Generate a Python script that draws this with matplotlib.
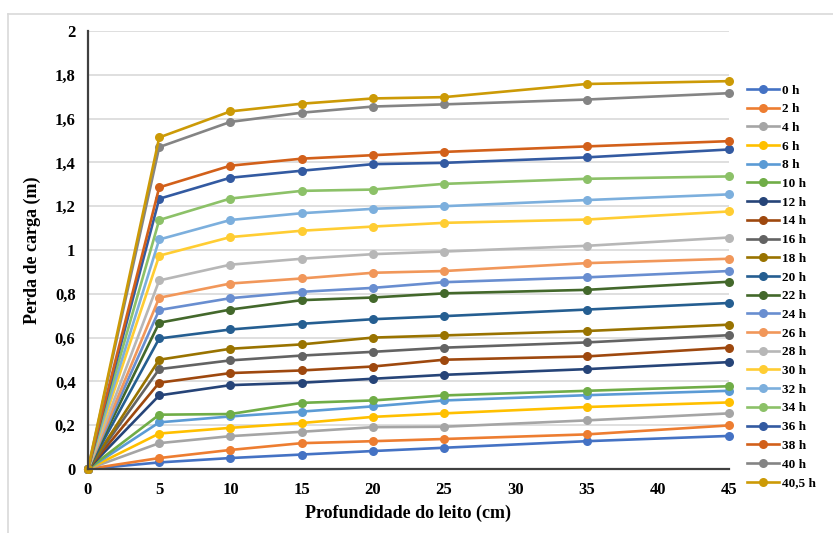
import matplotlib
matplotlib.use("Agg")
import matplotlib.pyplot as plt
from matplotlib.lines import Line2D

depth = [0, 5, 10, 15, 20, 25, 35, 45]
labels = ["0 h", "2 h", "4 h", "6 h", "8 h", "10 h", "12 h", "14 h", "16 h", "18 h",
          "20 h", "22 h", "24 h", "26 h", "28 h", "30 h", "32 h", "34 h", "36 h",
          "38 h", "40 h", "40,5 h"]

s0 = [0, 0.03, 0.05, 0.066, 0.082, 0.097, 0.127, 0.151]
s2 = [0, 0.05, 0.087, 0.118, 0.127, 0.137, 0.158, 0.199]
s4 = [0, 0.118, 0.150, 0.170, 0.191, 0.193, 0.222, 0.254]
s6 = [0, 0.162, 0.188, 0.210, 0.238, 0.254, 0.283, 0.304]
s8 = [0, 0.213, 0.240, 0.262, 0.286, 0.313, 0.337, 0.357]
s10 = [0, 0.248, 0.251, 0.302, 0.313, 0.336, 0.357, 0.378]
s12 = [0, 0.336, 0.383, 0.394, 0.412, 0.430, 0.456, 0.488]
s14 = [0, 0.394, 0.438, 0.450, 0.468, 0.499, 0.514, 0.554]
s16 = [0, 0.456, 0.496, 0.518, 0.535, 0.554, 0.578, 0.611]
s18 = [0, 0.499, 0.549, 0.569, 0.600, 0.610, 0.630, 0.659]
s20 = [0, 0.596, 0.637, 0.663, 0.684, 0.698, 0.728, 0.758]
s22 = [0, 0.668, 0.728, 0.771, 0.783, 0.802, 0.818, 0.855]
s24 = [0, 0.726, 0.780, 0.809, 0.827, 0.853, 0.875, 0.904]
s26 = [0, 0.782, 0.847, 0.870, 0.896, 0.904, 0.940, 0.960]
s28 = [0, 0.861, 0.933, 0.960, 0.981, 0.993, 1.019, 1.057]
s30 = [0, 0.974, 1.059, 1.088, 1.107, 1.124, 1.139, 1.176]
s32 = [0, 1.048, 1.137, 1.168, 1.188, 1.200, 1.228, 1.254]
s34 = [0, 1.137, 1.235, 1.270, 1.276, 1.302, 1.325, 1.336]
s36 = [0, 1.234, 1.330, 1.362, 1.392, 1.398, 1.423, 1.459]
s38 = [0, 1.286, 1.385, 1.417, 1.433, 1.448, 1.473, 1.497]
s40 = [0, 1.470, 1.585, 1.627, 1.655, 1.665, 1.687, 1.716]
s405 = [0, 1.514, 1.633, 1.668, 1.692, 1.698, 1.758, 1.771]

series = [s0, s2, s4, s6, s8, s10, s12, s14, s16, s18, s20, s22, s24, s26,
          s28, s30, s32, s34, s36, s38, s40, s405]

colors = ["#4472C4", "#ED7D31", "#A5A5A5", "#FFC000", "#5B9BD5", "#70AD47",
          "#264478", "#9E480E", "#636363", "#997300", "#255E91", "#43682B",
          "#698ED0", "#F1975A", "#B7B7B7", "#FFCD33", "#7CAFDD", "#8CC168",
          "#335AA1", "#D2601A", "#848484", "#CC9A06"]

yticks = [0, 0.2, 0.4, 0.6, 0.8, 1.0, 1.2, 1.4, 1.6, 1.8, 2.0]
ytick_labels = ["0", "0,2", "0,4", "0,6", "0,8", "1", "1,2", "1,4", "1,6", "1,8", "2"]
xticks = [0, 5, 10, 15, 20, 25, 30, 35, 40, 45]

serif = ["Liberation Serif", "DejaVu Serif"]

W, H = 833, 533
fig = plt.figure(figsize=(W / 100, H / 100), dpi=100)
ax = fig.add_axes([88 / W, 1 - 469 / H, (729 - 88) / W, (469 - 31) / H])

handles = []
for lab, vals, c in zip(labels, series, colors):
    ln, = ax.plot(depth, vals, color=c, lw=1.9, marker="o", ms=6.5,
                  markeredgewidth=0, clip_on=False, label=lab)
    handles.append(ln)

ax.set_xlim(0, 45)
ax.set_ylim(0, 2)
ax.set_xticks(xticks)
ax.set_xticklabels([str(t) for t in xticks])
ax.set_yticks(yticks)
ax.set_yticklabels(ytick_labels)
ax.grid(axis="y", color="#D9D9D9", lw=1.2)
ax.set_axisbelow(True)
for side in ["top", "right"]:
    ax.spines[side].set_visible(False)
for side in ["left", "bottom"]:
    ax.spines[side].set_color("#404040")
    ax.spines[side].set_linewidth(1.6)
ax.tick_params(length=0, pad=9)
for lbl in ax.get_xticklabels() + ax.get_yticklabels():
    lbl.set_fontfamily(serif)
    lbl.set_fontweight("bold")
    lbl.set_fontsize(12)

ax.set_xlabel("Profundidade do leito (cm)", fontfamily=serif, fontweight="bold",
              fontsize=13, labelpad=5)
ax.set_ylabel("Perda de carga (m)", fontfamily=serif, fontweight="bold",
              fontsize=13, labelpad=10)

leg = fig.legend(handles=handles, loc="upper left",
                 bbox_to_anchor=(742 / W, 1 - 79 / H), frameon=False,
                 prop={"family": serif, "weight": "bold", "size": 9.5},
                 handlelength=2.4, handletextpad=0.2, labelspacing=0.49,
                 borderaxespad=0)

# chart area border (top and left edges visible)
fig.add_artist(Line2D([8 / W, 1], [1 - 14 / H, 1 - 14 / H], color="#D9D9D9", lw=1.2))
fig.add_artist(Line2D([8 / W, 8 / W], [0, 1 - 14 / H], color="#D9D9D9", lw=1.2))

fig.savefig("out.png", dpi=100)
